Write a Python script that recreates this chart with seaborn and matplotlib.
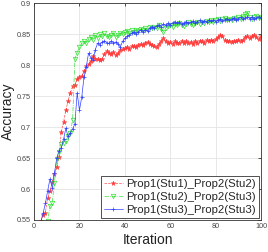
import numpy as np
import pandas as pd
import matplotlib
matplotlib.use("Agg")
import matplotlib.pyplot as plt
import seaborn as sns

# iterations 1..100
iteration = np.arange(1, 101)

acc_stu1_stu2 = [
    0.520, 0.535, 0.548, 0.558, 0.562, 0.586, 0.596, 0.612, 0.624, 0.636,
    0.652, 0.692, 0.708, 0.727, 0.742, 0.755, 0.766, 0.768, 0.778, 0.780,
    0.782, 0.790, 0.798, 0.801, 0.806, 0.815, 0.809, 0.810, 0.808, 0.810,
    0.818, 0.822, 0.820, 0.817, 0.821, 0.816, 0.819, 0.824, 0.826, 0.827,
    0.829, 0.826, 0.830, 0.831, 0.829, 0.832, 0.834, 0.833, 0.836, 0.837,
    0.834, 0.832, 0.830, 0.829, 0.834, 0.838, 0.843, 0.838, 0.835, 0.837,
    0.834, 0.838, 0.836, 0.835, 0.839, 0.836, 0.838, 0.835, 0.837, 0.834,
    0.838, 0.836, 0.839, 0.838, 0.836, 0.840, 0.838, 0.841, 0.839, 0.842,
    0.845, 0.848, 0.846, 0.840, 0.838, 0.839, 0.837, 0.839, 0.838, 0.840,
    0.838, 0.841, 0.845, 0.847, 0.844, 0.846, 0.848, 0.845, 0.842, 0.846,
]

acc_stu2_stu3 = [
    0.500, 0.510, 0.520, 0.530, 0.540, 0.548, 0.572, 0.577, 0.610, 0.648,
    0.660, 0.672, 0.675, 0.678, 0.685, 0.690, 0.712, 0.810, 0.820, 0.829,
    0.835, 0.838, 0.836, 0.842, 0.845, 0.840, 0.848, 0.843, 0.850, 0.846,
    0.851, 0.847, 0.845, 0.849, 0.852, 0.845, 0.848, 0.852, 0.850, 0.853,
    0.855, 0.851, 0.856, 0.854, 0.857, 0.855, 0.858, 0.856, 0.859, 0.857,
    0.861, 0.859, 0.862, 0.860, 0.864, 0.858, 0.854, 0.860, 0.863, 0.865,
    0.862, 0.866, 0.864, 0.867, 0.865, 0.863, 0.866, 0.869, 0.866, 0.864,
    0.867, 0.869, 0.866, 0.870, 0.868, 0.871, 0.869, 0.872, 0.870, 0.873,
    0.875, 0.871, 0.874, 0.876, 0.873, 0.875, 0.872, 0.876, 0.874, 0.877,
    0.875, 0.879, 0.882, 0.884, 0.878, 0.874, 0.877, 0.879, 0.876, 0.878,
]

acc_stu3_stu3 = [
    0.530, 0.540, 0.548, 0.561, 0.577, 0.597, 0.616, 0.602, 0.626, 0.650,
    0.662, 0.666, 0.680, 0.698, 0.685, 0.690, 0.697, 0.705, 0.755, 0.727,
    0.748, 0.780, 0.797, 0.819, 0.812, 0.808, 0.825, 0.835, 0.833, 0.837,
    0.839, 0.836, 0.835, 0.838, 0.836, 0.837, 0.834, 0.829, 0.838, 0.843,
    0.846, 0.848, 0.851, 0.853, 0.850, 0.854, 0.856, 0.853, 0.857, 0.855,
    0.859, 0.862, 0.860, 0.863, 0.865, 0.862, 0.866, 0.864, 0.867, 0.865,
    0.868, 0.870, 0.867, 0.869, 0.866, 0.868, 0.870, 0.867, 0.869, 0.871,
    0.868, 0.870, 0.872, 0.869, 0.871, 0.870, 0.872, 0.871, 0.873, 0.870,
    0.872, 0.874, 0.871, 0.873, 0.875, 0.872, 0.874, 0.876, 0.873, 0.875,
    0.877, 0.874, 0.876, 0.878, 0.875, 0.877, 0.874, 0.876, 0.878, 0.876,
]

labels = ["Prop1(Stu1)_Prop2(Stu2)", "Prop1(Stu2)_Prop2(Stu3)", "Prop1(Stu3)_Prop2(Stu3)"]
x_ticks = [0, 20, 40, 60, 80, 100]
y_ticks = [0.55, 0.6, 0.65, 0.7, 0.75, 0.8, 0.85, 0.9]

sns.set_style("whitegrid")
plt.rcParams["font.family"] = ["Liberation Sans", "DejaVu Sans"]

fig = plt.figure(figsize=(2.68, 2.52), dpi=100)
ax = fig.add_axes([0.127, 0.127, 0.847, 0.861])

sns.lineplot(x=iteration, y=acc_stu1_stu2, ax=ax, color="#ff5050", linestyle="--",
             linewidth=0.5, marker="*", markersize=3.5, markeredgewidth=0.3,
             markerfacecolor="#ff4040", markeredgecolor="#ff3030", label=labels[0])
sns.lineplot(x=iteration, y=acc_stu2_stu3, ax=ax, color="#40e040", linestyle="-.",
             linewidth=0.5, marker="v", markersize=3.2, markerfacecolor="none",
             markeredgewidth=0.5, markeredgecolor="#30e030", label=labels[1])
sns.lineplot(x=iteration, y=acc_stu3_stu3, ax=ax, color="#3040ff", linestyle="-",
             linewidth=0.5, marker="+", markersize=3.5, markeredgewidth=0.5,
             markeredgecolor="#3040ff", label=labels[2])

ax.set_xlim(0, 100)
ax.set_ylim(0.55, 0.9)
ax.set_xticks(x_ticks)
ax.set_xticklabels([str(t) for t in x_ticks])
ax.set_yticks(y_ticks)
ax.set_yticklabels([f"{t:g}" for t in y_ticks])
ax.tick_params(axis="both", labelsize=5.2, labelcolor="#444444", direction="in",
               length=2.5, width=0.6, color="#333333", top=True, right=True,
               pad=2.5)
ax.grid(True, color="#e4e4e4", linewidth=0.6)
for s in ax.spines.values():
    s.set_visible(True)
    s.set_color("#333333")
    s.set_linewidth(0.6)

ax.set_xlabel("Iteration", fontsize=10, color="#222222", labelpad=2)
ax.set_ylabel("Accuracy", fontsize=10, color="#222222")
ax.yaxis.set_label_coords(-0.085, 0.5)

leg = ax.legend(loc="lower right", fontsize=8.2, frameon=True, fancybox=False,
                borderpad=0.25, labelspacing=0.25, handlelength=1.7,
                handletextpad=0.3, borderaxespad=0.2, edgecolor="#333333")
leg.get_frame().set_linewidth(0.6)
leg.get_frame().set_alpha(1)

fig.savefig("out.png", dpi=100)
